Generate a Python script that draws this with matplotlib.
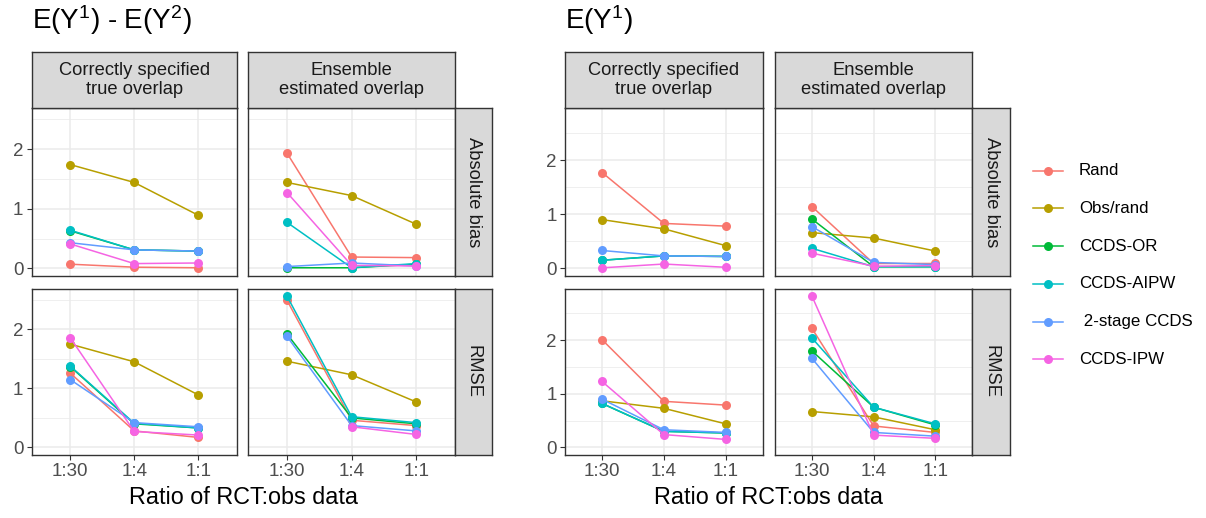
import numpy as np
import matplotlib
matplotlib.use("Agg")
import matplotlib.pyplot as plt
from matplotlib.lines import Line2D

plt.rcParams['font.family'] = ['Liberation Sans', 'DejaVu Sans']
plt.rcParams['mathtext.fontset'] = 'custom'
plt.rcParams['mathtext.rm'] = 'Liberation Sans'
plt.rcParams['mathtext.it'] = 'Liberation Sans'

# ---------------- data ----------------
ratios = ['1:30', '1:4', '1:1']
methods = ['Rand', 'Obs/rand', 'CCDS-OR', 'CCDS-AIPW', ' 2-stage CCDS', 'CCDS-IPW']
colors = ['#F8766D', '#B79F00', '#00BA38', '#00BFC4', '#619CFF', '#F564E3']
settings = ['Correctly specified\ntrue overlap', 'Ensemble\nestimated overlap']
metrics = ['Absolute bias', 'RMSE']
titles = [r'E(Y$^{1}$) - E(Y$^{2}$)', r'E(Y$^{1}$)']
xlabel = 'Ratio of RCT:obs data'

nan = np.nan
# rows: methods (same order as `methods`), columns: ratios
diff_bias_correct = [[0.07, 0.02, 0.01], [1.74, 1.44, 0.89], [0.63, 0.31, 0.29],
                     [0.64, 0.31, 0.29], [0.43, 0.31, 0.29], [0.41, 0.08, 0.09]]
diff_bias_ensemble = [[1.93, 0.19, 0.18], [1.44, 1.22, 0.74], [0.01, 0.01, 0.07],
                      [0.77, 0.01, 0.08], [0.03, 0.09, 0.04], [1.27, 0.05, 0.04]]
diff_rmse_correct = [[1.26, 0.28, 0.17], [1.75, 1.45, 0.89], [1.37, 0.40, 0.33],
                     [1.38, 0.41, 0.33], [1.15, 0.42, 0.35], [1.86, 0.27, 0.21]]
diff_rmse_ensemble = [[2.49, 0.46, 0.37], [1.46, 1.23, 0.77], [1.92, 0.50, 0.40],
                      [2.56, 0.52, 0.42], [1.88, 0.37, 0.28], [nan, 0.35, 0.22]]

ey1_bias_correct = [[1.77, 0.83, 0.78], [0.90, 0.73, 0.42], [0.15, 0.23, 0.22],
                    [0.15, 0.23, 0.22], [0.33, 0.23, 0.22], [0.01, 0.08, 0.02]]
ey1_bias_ensemble = [[1.14, 0.09, 0.09], [0.66, 0.56, 0.32], [0.91, 0.03, 0.03],
                     [0.37, 0.03, 0.03], [0.77, 0.11, 0.07], [0.28, 0.04, 0.05]]
ey1_rmse_correct = [[2.01, 0.86, 0.79], [0.87, 0.73, 0.44], [0.82, 0.30, 0.27],
                    [0.82, 0.30, 0.27], [0.90, 0.33, 0.28], [1.23, 0.24, 0.15]]
ey1_rmse_ensemble = [[2.22, 0.40, 0.28], [0.67, 0.57, 0.33], [1.80, 0.75, 0.42],
                     [2.04, 0.75, 0.44], [1.66, 0.28, 0.21], [2.82, 0.23, 0.17]]

plot_data = [
    [[diff_bias_correct, diff_bias_ensemble], [diff_rmse_correct, diff_rmse_ensemble]],
    [[ey1_bias_correct, ey1_bias_ensemble], [ey1_rmse_correct, ey1_rmse_ensemble]],
]

# ---------------- layout (pixels) ----------------
W, H = 1206, 518
fig = plt.figure(figsize=(W / 100, H / 100), dpi=100)
fig.patch.set_facecolor('white')

col_x = [[(31.7, 236.7), (248.3, 455.0)], [(565.0, 762.7), (775.0, 972.3)]]
rstrip_x = [(455.0, 491.7), (972.3, 1010.0)]
row_y = [(108.0, 276.0), (288.7, 455.0)]
tstrip_y = (51.7, 108.0)
title_x = [32, 565]

BORDER = '#333333'
STRIP = '#D9D9D9'
GRID = '#EBEBEB'
TICKC = '#4D4D4D'


def add_ax(x0, x1, y0, y1):
    return fig.add_axes([x0 / W, 1 - y1 / H, (x1 - x0) / W, (y1 - y0) / H])


def style_strip(ax):
    ax.set_xticks([]); ax.set_yticks([])
    ax.set_facecolor(STRIP)
    for s in ax.spines.values():
        s.set_color(BORDER); s.set_linewidth(1.0)


xs = np.arange(1, 4)
for p in range(2):
    allv = np.array(plot_data[p], dtype=float)
    vmin, vmax = np.nanmin(allv), np.nanmax(allv)
    vmin = min(vmin, 0.0)
    rng = vmax - vmin
    ylim = (vmin - 0.05 * rng, vmax + 0.05 * rng)
    for r in range(2):
        for c in range(2):
            x0, x1 = col_x[p][c]
            y0, y1 = row_y[r]
            ax = add_ax(x0, x1, y0, y1)
            ax.set_facecolor('white')
            ax.set_xlim(0.4, 3.6)
            ax.set_ylim(*ylim)
            ax.set_yticks([0, 1, 2])
            ax.set_yticks([0.5, 1.5, 2.5], minor=True)
            ax.set_xticks(xs)
            ax.set_xticklabels(ratios)
            ax.grid(True, which='major', color=GRID, linewidth=1.1, zorder=0)
            ax.grid(True, which='minor', axis='y', color=GRID, linewidth=0.55, zorder=0)
            ax.set_axisbelow(True)
            for s in ax.spines.values():
                s.set_color(BORDER); s.set_linewidth(1.0)
            ax.tick_params(which='minor', length=0)
            ax.tick_params(which='major', color=BORDER, length=3.5, width=0.8,
                           labelcolor=TICKC, labelsize=13.5, pad=2.5)
            if c != 0:
                ax.tick_params(axis='y', length=0, labelleft=False)
            if r != 1:
                ax.tick_params(axis='x', length=0, labelbottom=False)
            vals = plot_data[p][r][c]
            for m, (name, col) in enumerate(zip(methods, colors)):
                ax.plot(xs, vals[m], color=col, linewidth=1.1, marker='o',
                        markersize=6.5, markeredgewidth=0, zorder=3 + m)
            if r == 0:
                sax = add_ax(x0, x1, tstrip_y[0], tstrip_y[1])
                style_strip(sax)
                sax.text(0.5, 0.5, settings[c], ha='center', va='center',
                         fontsize=13.2, color='#1A1A1A', linespacing=1.1,
                         transform=sax.transAxes)
        rx0, rx1 = rstrip_x[p]
        y0, y1 = row_y[r]
        rax = add_ax(rx0, rx1, y0, y1)
        style_strip(rax)
        rax.text(0.5, 0.5, metrics[r], ha='center', va='center', rotation=-90,
                 fontsize=13.2, color='#1A1A1A', transform=rax.transAxes)
    # title and x label
    fig.text(title_x[p] / W, 1 - 20 / H, titles[p], ha='left', va='center',
             fontsize=20, color='black')
    cx = (col_x[p][0][0] + col_x[p][1][1]) / 2
    fig.text(cx / W, 1 - 497 / H, xlabel, ha='center', va='center',
             fontsize=16.8, color='black')

# ---------------- legend ----------------
lax = fig.add_axes([0, 0, 1, 1], facecolor='none')
lax.set_xlim(0, W); lax.set_ylim(H, 0); lax.axis('off')
for k, (name, col) in enumerate(zip(methods, colors)):
    yy = 170.7 + k * 37.7
    lax.add_line(Line2D([1033, 1063], [yy, yy], color=col, linewidth=1.1))
    lax.add_line(Line2D([1048], [yy], color=col, marker='o', markersize=6.5,
                        markeredgewidth=0))
    lax.text(1079, yy, name, ha='left', va='center', fontsize=12.2, color='black')

fig.savefig('out.png', dpi=100, facecolor='white')
